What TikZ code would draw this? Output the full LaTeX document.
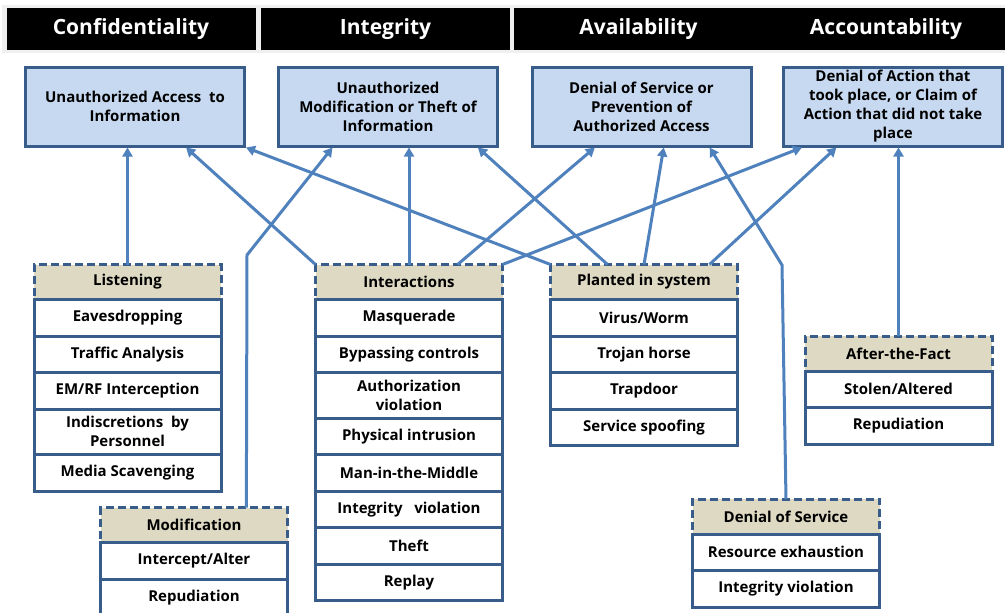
\documentclass[tikz,border=0pt]{standalone}
\usepackage{fontspec}
\setmainfont{Open Sans}
\usetikzlibrary{arrows.meta,positioning,calc}

\definecolor{headfill}{HTML}{DDD9C3}
\definecolor{threatfill}{HTML}{C6D9F1}
\definecolor{edgeblue}{HTML}{385D8A}
\definecolor{linkblue}{HTML}{4F81BD}

\begin{document}
\begin{tikzpicture}[x=1pt,y=-1pt]
% Styles for pillars, threats, attack groups and links
\tikzset{
  pillar/.style={fill=black, text=white, inner sep=0pt,
    font=\bfseries\fontsize{21}{24}\selectfont,
    minimum width=249pt, minimum height=42pt},
  threat/.style={draw=edgeblue, fill=threatfill, line width=3pt,
    inner sep=0pt, align=center,
    font=\bfseries\fontsize{15}{19}\selectfont,
    minimum width=219pt, minimum height=79pt},
  grouphead/.style={draw=edgeblue, fill=headfill, line width=3pt,
    dash pattern=on 8pt off 4pt, inner sep=0pt, outer sep=0pt,
    font=\bfseries\fontsize{15}{19}\selectfont,
    minimum width=187pt, minimum height=35pt},
  item/.style={draw=edgeblue, fill=white, line width=3pt,
    inner xsep=0pt, inner ysep=7.5pt, outer sep=0pt, align=center,
    font=\bfseries\fontsize{15}{19}\selectfont,
    minimum width=187pt, minimum height=36.5pt},
  link/.style={draw=linkblue, line width=3pt,
    -{Triangle[width=10pt,length=9pt]}}
}
\useasboundingbox (0,0) rectangle (1005,613);

% Header bar
\fill[gray!12] (2,5) rectangle (1010,53);
\node[pillar] (hconf) at (131,29) {Confidentiality};
\node[pillar] (hinteg) at (385.5,29) {Integrity};
\node[pillar] (havail) at (638.5,29) {Availability};
\node[pillar] (hacct) at (886,29) {Accountability};

% Threat boxes
\node[threat] (conf) at (135,106.5) {Unauthorized Access~ to\\Information};
\node[threat] (integ) at (388,106.5) {Unauthorized\\Modification or Theft of\\Information};
\node[threat] (avail) at (641.5,106.5) {Denial of Service or\\Prevention of\\Authorized Access};
\node[threat] (acct) at (893,106.5) {Denial of Action that\\took place, or Claim of\\Action that did not take\\place};

% Attack groups
\node[grouphead] (lis0) at (127.5,282) {Listening};
\foreach \txt [count=\i, remember=\i as \j (initially 0)] in
  {Eavesdropping, Traffic Analysis, EM/RF Interception,
   {Indiscretions~ by\\Personnel}, Media Scavenging}
  \node[item, below=0pt of lis\j] (lis\i) {\txt};

\node[grouphead] (mod0) at (194,525) {Modification};
\foreach \txt [count=\i, remember=\i as \j (initially 0)] in
  {Intercept/Alter, Repudiation}
  \node[item, below=0pt of mod\j] (mod\i) {\txt};

\node[grouphead] (int0) at (409,282) {Interactions};
\foreach \txt [count=\i, remember=\i as \j (initially 0)] in
  {Masquerade, Bypassing controls, {Authorization\\violation},
   Physical intrusion, Man-in-the-Middle, Integrity~~ violation,
   Theft, Replay}
  \node[item, below=0pt of int\j] (int\i) {\txt};

\node[grouphead] (pla0) at (644,282) {Planted in system};
\foreach \txt [count=\i, remember=\i as \j (initially 0)] in
  {Virus/Worm, Trojan horse, Trapdoor, Service spoofing}
  \node[item, below=0pt of pla\j] (pla\i) {\txt};

\node[grouphead] (aft0) at (898.5,353.5) {After-the-Fact};
\foreach \txt [count=\i, remember=\i as \j (initially 0)] in
  {Stolen/Altered, Repudiation}
  \node[item, below=0pt of aft\j] (aft\i) {\txt};

\node[grouphead] (dos0) at (786,516.5) {Denial of Service};
\foreach \txt [count=\i, remember=\i as \j (initially 0)] in
  {Resource exhaustion, Integrity violation}
  \node[item, below=0pt of dos\j] (dos\i) {\txt};

% Links from groups to threats
\coordinate (modbend) at (247,255);
\coordinate (dosbend) at (782,265);
\draw[link] (lis0.north) -- (lis0.north |- conf.south);
\draw[link] (int0.north west) -- ($(conf.south west)!0.73!(conf.south east)$);
\draw[link] (pla0.north west) -- (conf.south east);
\draw[link] ($(mod0.north west)!0.78!(mod0.north east)$) -- (modbend)
  -- ($(integ.south west)!0.25!(integ.south east)$);
\draw[link] (int0.north) -- (int0.north |- integ.south);
\draw[link] ($(int0.north west)!0.76!(int0.north east)$)
  -- ($(avail.south west)!0.29!(avail.south east)$);
\draw[link] (int0.north east) -- ($(acct.south west)!0.09!(acct.south east)$);
\draw[link] ($(pla0.north west)!0.305!(pla0.north east)$)
  -- ($(integ.south west)!0.905!(integ.south east)$);
\draw[link] (pla0.north) -- ($(avail.south west)!0.6!(avail.south east)$);
\draw[link] ($(pla0.north west)!0.85!(pla0.north east)$)
  -- ($(acct.south west)!0.245!(acct.south east)$);
\draw[link] (dos0.north) -- (dosbend)
  -- ($(avail.south west)!0.807!(avail.south east)$);
\draw[link] (aft0.north) -- (aft0.north |- acct.south);
\end{tikzpicture}
\end{document}
